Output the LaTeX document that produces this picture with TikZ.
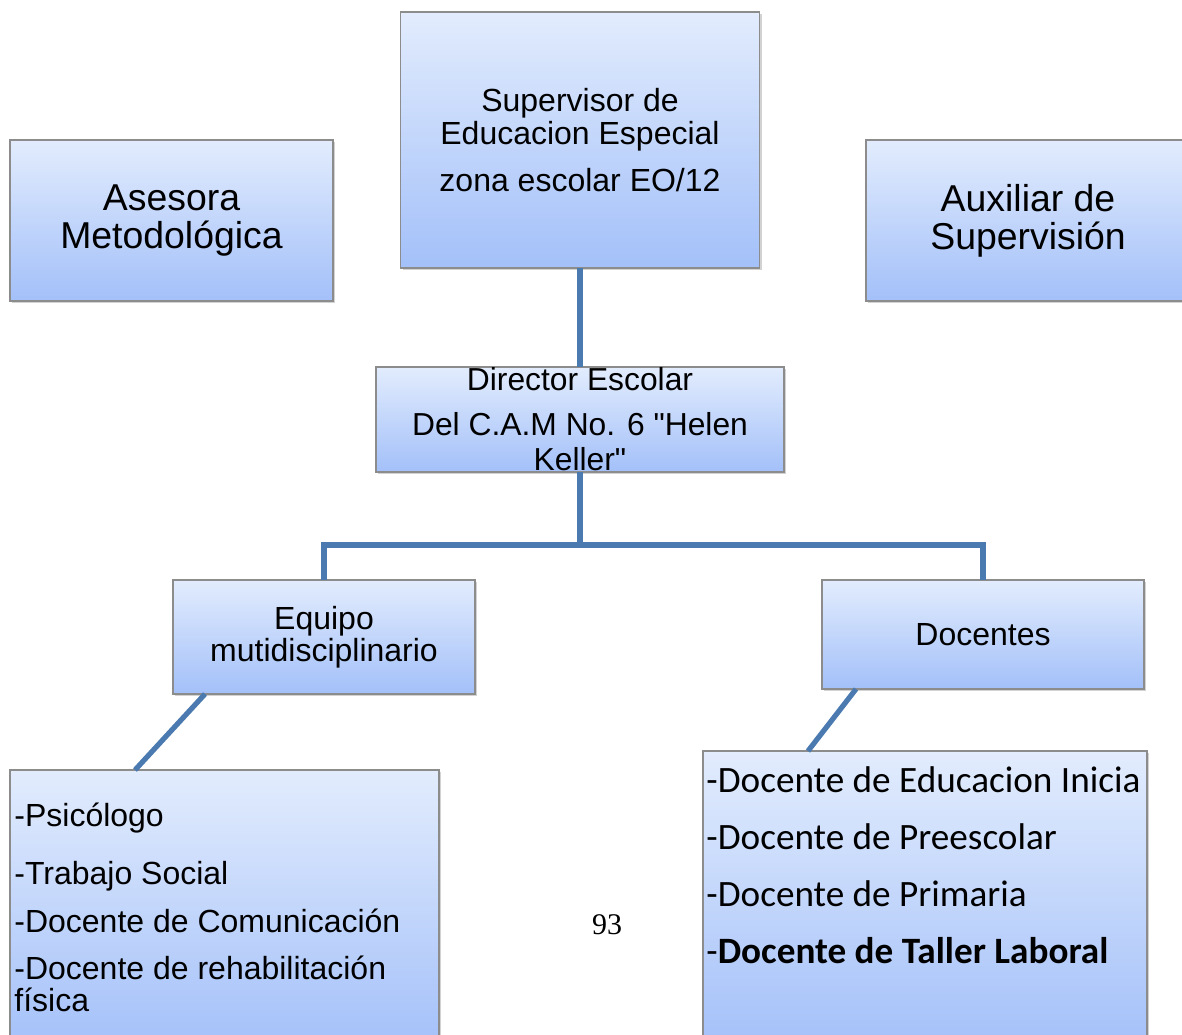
\documentclass[tikz,border=0pt]{standalone}
\usepackage{fontspec}
\setmainfont{Liberation Sans}
\newfontfamily\plainsans{Liberation Sans}
\newfontfamily\calib{Carlito}
\newfontfamily\timesfont{Liberation Serif}
\usetikzlibrary{shadows,calc}
\definecolor{boxtop}{RGB}{226,236,253}
\definecolor{boxbot}{RGB}{163,192,249}
\definecolor{boxedge}{RGB}{140,140,140}
\definecolor{conncol}{RGB}{74,122,176}
\tikzset{
  orgbox/.style={rectangle, draw=boxedge, line width=0.6pt, top color=boxtop, bottom color=boxbot,
    inner sep=0pt, outer sep=0pt, align=center,
    drop shadow={opacity=0.35, shadow xshift=1pt, shadow yshift=-1.2pt}},
  conn/.style={draw=conncol, line width=2.6pt},
  listline/.style={anchor=west, inner sep=0pt, font=\fontsize{16}{17}\selectfont},
  doclist/.style={anchor=west, inner sep=0pt, font=\calib\fontsize{18.6}{20}\selectfont},
}
\begin{document}
\begin{tikzpicture}[x=0.5pt,y=-0.5pt]
\clip (0,0) rectangle (1182,1034);
\fill[white] (0,0) rectangle (1182,1034);

\node[orgbox, minimum width=179.5pt, minimum height=128pt, font=\fontsize{16}{16.5}\selectfont]
  (sup) at (580,140) {Supervisor de\\Educacion Especial\\[7pt]zona escolar EO/12};
\node[orgbox, minimum width=161.5pt, minimum height=80.5pt, font=\fontsize{18.7}{19}\selectfont]
  (ase) at (171.5,220.5) {Asesora\\Metodológica};
\node[orgbox, minimum width=162pt, minimum height=80.5pt, font=\fontsize{18.7}{19}\selectfont]
  (aux) at (1028,220.5) {Auxiliar de\\Supervisión};
\node[orgbox, minimum width=204pt, minimum height=52.5pt, font=\plainsans\fontsize{15.9}{17.5}\selectfont]
  (dir) at (580,419.5) {Director Escolar\\[5pt]Del C.A.M No. 6 "Helen\\Keller"};
\node[orgbox, minimum width=151pt, minimum height=57pt, font=\fontsize{16}{16}\selectfont]
  (equ) at (324,637) {Equipo\\mutidisciplinario};
\node[orgbox, minimum width=161pt, minimum height=54.5pt, font=\fontsize{16}{16}\selectfont]
  (doc) at (983,634.5) {Docentes};
\node[orgbox, minimum width=214.5pt, minimum height=140pt] (lb) at (224.5,910) {};
\node[orgbox, minimum width=222pt, minimum height=149.5pt] (rb) at (925,900.5) {};

% connectors
\draw[conn] (sup.south) -- (dir.north);
\coordinate (bus) at ($(dir.south)+(0,73)$);
\draw[conn] (dir.south) -- (bus) -| (equ.north);
\draw[conn] (bus) -| (doc.north);
\draw[conn] ($(equ.south west)+(32,0)$) -- ($(lb.north west)+(125,0)$);
\draw[conn] ($(doc.south west)+(34,0)$) -- ($(rb.north west)+(105,0)$);

% left list
\node[listline] (l1) at (14,818) {-Psicólogo};
\node[listline] (l2) at (14,876) {-Trabajo Social};
\node[listline] (l3) at (14,921) {-Docente de Comunicación};
\node[listline] (l4) at (14,968) {-Docente de rehabilitación};
\node[listline] (l5) at (14,1000) {física};

% right list
\node[doclist] (r1) at (706,780) {-Docente de Educacion Inicia};
\node[doclist] (r2) at (706,837) {-Docente de Preescolar};
\node[doclist] (r3) at (706,894) {-Docente de Primaria};
\node[doclist] (r4) at (706,951) {-\textbf{Docente de Taller Laboral}};

\node[font=\timesfont\fontsize{15}{17}\selectfont, inner sep=0pt] (pg) at (607,925) {93};
\end{tikzpicture}
\end{document}
